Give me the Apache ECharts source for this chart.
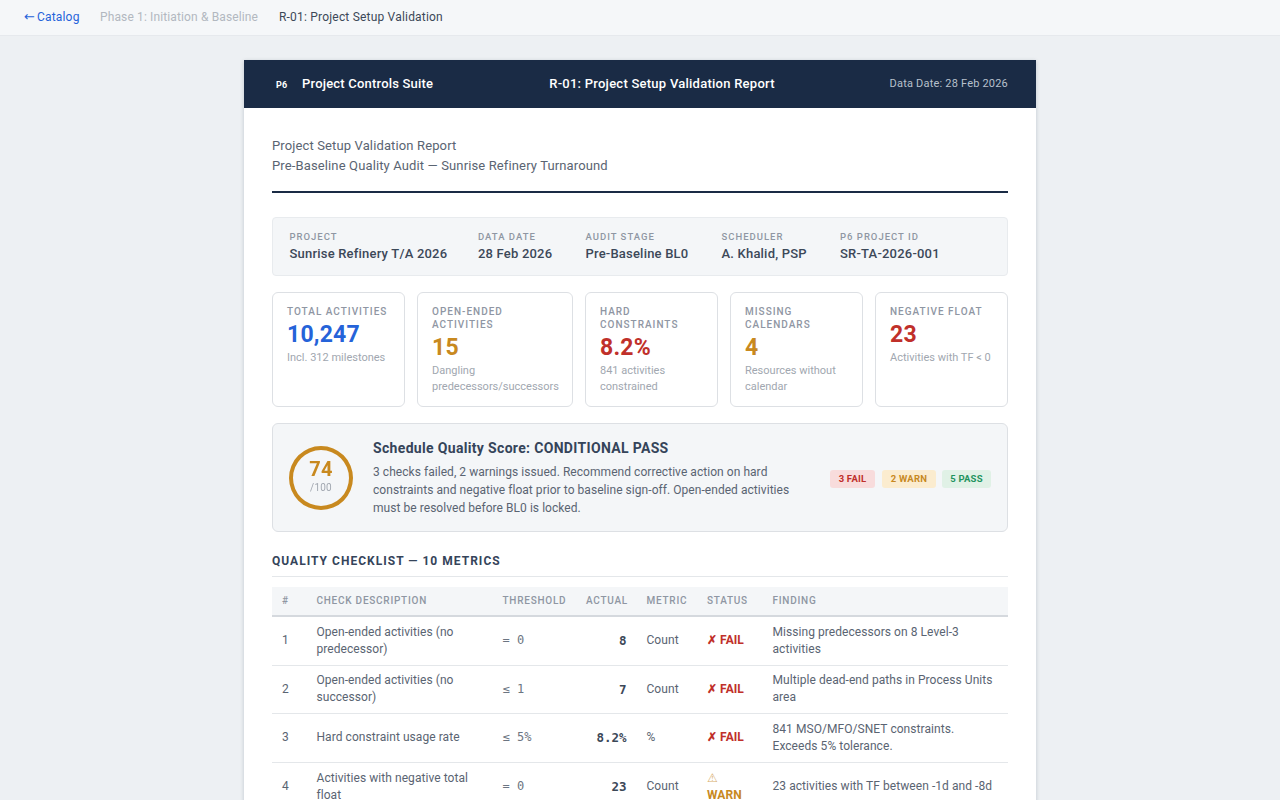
<!DOCTYPE html>
<html>
<head>
<meta charset="utf-8">
<script src="https://cdn.jsdelivr.net/npm/echarts@6/dist/echarts.min.js"></script>
<style>
* { box-sizing: border-box; }
html, body { margin: 0; height: 800px; overflow: hidden; }
body { background: #edf0f3; font-family: Roboto, sans-serif; color: #3c4858; position: relative; letter-spacing: 0.2px; }
.mono { font-family: "DejaVu Sans Mono", monospace; letter-spacing: 0; }
.crumbs { height: 36px; background: #f5f7f9; border-bottom: 1px solid #e6e9ed; font-size: 12px; position: relative; }
.crumbs span { position: absolute; top: 10px; line-height: 14px; white-space: nowrap; }
.arrow { font-family: "DejaVu Sans", sans-serif; font-size: 13px; letter-spacing: 0; margin-right: 2px; position: static !important; }
.report { position: absolute; left: 244px; top: 60px; width: 792px; height: 760px; background: #fff; box-shadow: 0 1px 4px rgba(30,45,70,.22); }
.bar { height: 48px; background: #1a2b45; color: #fff; position: relative; }
.bar span { position: absolute; white-space: nowrap; }
.logo { left: 32px; top: 19px; font-size: 9px; font-weight: 700; line-height: 12px; }
.suite { left: 58px; top: 16px; font-size: 13px; font-weight: 500; line-height: 16px; }
.ttl { left: 0; width: 836px; text-align: center; top: 16px; font-size: 13px; font-weight: 500; line-height: 16px; letter-spacing: 0.25px; }
.dd { right: 28px; top: 17px; font-size: 11px; line-height: 14px; color: #b7c0cc; }
.sub { position: absolute; left: 28px; top: 76px; font-size: 13px; line-height: 20px; color: #5a6472; letter-spacing: 0.13px; }
.rule { position: absolute; left: 28px; right: 28px; top: 131px; height: 2px; background: #1a2b45; }
.meta { position: absolute; left: 28px; top: 157px; width: 736px; height: 59px; background: #f4f6f8; border: 1px solid #e8ebee; border-radius: 4px; display: grid; grid-template-columns: 188.5px 107.5px 136px 118.5px 1fr; padding: 13px 0 0 16.5px; }
.meta b { display: block; font-size: 9.5px; line-height: 12px; font-weight: 500; letter-spacing: 1px; color: #8f96a3; text-transform: uppercase; }
.meta i { display: block; font-style: normal; font-size: 13px; line-height: 18px; margin-top: 2px; font-weight: 500; color: #3c4858; letter-spacing: 0.2px; }
.kpis { position: absolute; left: 28px; top: 232px; width: 736px; height: 115px; display: grid; grid-template-columns: 133px 156px 133px 133px 133px; column-gap: 12px; }
.kpi { border: 1px solid #dde0e4; border-radius: 6px; padding: 12px 14px 0; }
.kpi b { display: block; font-size: 10px; line-height: 13px; font-weight: 500; letter-spacing: 1px; color: #8f96a3; text-transform: uppercase; white-space: pre-line; }
.kpi strong { display: block; font-size: 23px; line-height: 26px; font-weight: 700; margin-top: 4px; }
.kpi em { display: block; font-style: normal; font-size: 11px; line-height: 16px; margin-top: 2px; color: #a1a7b0; white-space: pre-line; letter-spacing: 0; margin-right: -14px; }
.score { position: absolute; left: 28px; top: 363px; width: 736px; height: 109px; background: #f4f6f8; border: 1px solid #dde0e4; border-radius: 6px; }
#ring { position: absolute; left: 16px; top: 22px; width: 64px; height: 64px; }
.score h3 { position: absolute; left: 100px; top: 15px; margin: 0; font-size: 14px; line-height: 18px; font-weight: 700; color: #35445a; letter-spacing: 0.33px; }
.score p { position: absolute; left: 100px; top: 39px; margin: 0; font-size: 12px; line-height: 18px; color: #5a6472; white-space: pre-line; letter-spacing: 0.05px; }
.pill { position: absolute; top: 46px; height: 18px; border-radius: 3px; font-size: 9.5px; line-height: 18px; font-weight: 700; text-align: center; letter-spacing: 0.2px; }
.sect { position: absolute; left: 28px; top: 493px; width: 736px; height: 24px; border-bottom: 1px solid #e4e7ea; font-size: 12px; line-height: 16px; font-weight: 700; letter-spacing: 1.02px; color: #35445a; }
table { position: absolute; left: 28px; top: 527px; width: 736px; table-layout: fixed; border-collapse: collapse; font-size: 12px; }
th { height: 29px; background: #f4f6f8; border-bottom: 2px solid #d5d9de; padding: 0 0 2px 10px; text-align: left; font-size: 10px; font-weight: 500; letter-spacing: 0.75px; color: #8f96a3; text-transform: uppercase; }
td { border-bottom: 1px solid #e4e7ea; padding: 6px 0 6px 10px; line-height: 17px; color: #5a6472; white-space: pre-line; vertical-align: middle; letter-spacing: 0.06px; }
tr.row0, tr.row2, tr.row3 { height: 49px; }
tr.row1 { height: 48px; }
th.r { text-align: right; padding-right: 10.5px; }
td.r { text-align: right; padding: 0 10px 0 0; }
td.act { font-weight: 700; color: #3c4858; font-size: 12.5px; }
td.thr { font-size: 12px; color: #6c7582; }
td.st { font-weight: 700; font-size: 12px; }
td.st i { font-style: normal; font-weight: 400; opacity: .7; }
</style>
</head>
<body>
<div class="crumbs">
  <span style="left:24px;color:#2563d9"><span class="arrow">←</span>Catalog</span>
  <span style="left:100px;color:#b2b8c0;letter-spacing:.13px">Phase 1: Initiation &amp; Baseline</span>
  <span style="left:279px;color:#3c4858">R-01: Project Setup Validation</span>
</div>
<div class="report">
  <div class="bar">
    <span class="logo">P6</span>
    <span class="suite">Project Controls Suite</span>
    <span class="ttl">R-01: Project Setup Validation Report</span>
    <span class="dd">Data Date: 28 Feb 2026</span>
  </div>
  <div class="sub">Project Setup Validation Report<br>Pre-Baseline Quality Audit — Sunrise Refinery Turnaround</div>
  <div class="rule"></div>
  <div class="meta" id="meta"></div>
  <div class="kpis" id="kpis"></div>
  <div class="score">
    <div id="ring"></div>
    <h3>Schedule Quality Score: CONDITIONAL PASS</h3>
    <p id="scoreText"></p>
    <div id="pills"></div>
  </div>
  <div class="sect">QUALITY CHECKLIST — 10 METRICS</div>
  <table id="checks"></table>
</div>
<script>
const metaLabels = ["Project", "Data Date", "Audit Stage", "Scheduler", "P6 Project ID"];
const metaValues = ["Sunrise Refinery T/A 2026", "28 Feb 2026", "Pre-Baseline BL0", "A. Khalid, PSP", "SR-TA-2026-001"];

const kpiLabels = ["Total Activities", "Open-Ended\nActivities", "Hard\nConstraints", "Missing\nCalendars", "Negative Float"];
const kpiValues = ["10,247", "15", "8.2%", "4", "23"];
const kpiNotes = ["Incl. 312 milestones", "Dangling\npredecessors/successors", "841 activities\nconstrained", "Resources without\ncalendar", "Activities with TF < 0"];
const kpiColors = ["#2563d9", "#c8891f", "#c0302a", "#c8891f", "#c0302a"];

const scoreValue = 74;
const scoreMax = 100;
const scoreText = "3 checks failed, 2 warnings issued. Recommend corrective action on hard\nconstraints and negative float prior to baseline sign-off. Open-ended activities\nmust be resolved before BL0 is locked.";
const pillLabels = ["3 FAIL", "2 WARN", "5 PASS"];

const columns = ["#", "Check Description", "Threshold", "Actual", "Metric", "Status", "Finding"];
const checkIds = [1, 2, 3, 4];
const checkNames = ["Open-ended activities (no\npredecessor)", "Open-ended activities (no\nsuccessor)", "Hard constraint usage rate", "Activities with negative total\nfloat"];
const thresholds = ["= 0", "≤ 1", "≤ 5%", "= 0"];
const actuals = ["8", "7", "8.2%", "23"];
const metrics = ["Count", "Count", "%", "Count"];
const statuses = ["✗ FAIL", "✗ FAIL", "✗ FAIL", "⚠\nWARN"];
const findings = ["Missing predecessors on 8 Level-3\nactivities", "Multiple dead-end paths in Process Units\narea", "841 MSO/MFO/SNET constraints.\nExceeds 5% tolerance.", "23 activities with TF between -1d and -8d"];

document.getElementById("meta").innerHTML = metaLabels.map((l, i) => `<div><b>${l}</b><i>${metaValues[i]}</i></div>`).join("");

document.getElementById("kpis").innerHTML = kpiLabels.map((l, i) =>
  `<div class="kpi"><b>${l}</b><strong style="color:${kpiColors[i]}">${kpiValues[i]}</strong><em>${kpiNotes[i].replace("<", "&lt;")}</em></div>`
).join("");

document.getElementById("scoreText").textContent = scoreText;

const pillStyle = [
  "left:557px;width:45px;background:#f8dcdc;color:#c0302a",
  "left:609px;width:54px;background:#fbeccf;color:#c8891f",
  "left:669px;width:49px;background:#e0f1e6;color:#1f9460",
];
document.getElementById("pills").innerHTML = pillLabels.map((p, i) => `<div class="pill" style="${pillStyle[i]}">${p}</div>`).join("");

const colWidths = [34.5, 186, 83.5, 60.5, 60.5, 65.5, 245.5];
const statusColor = s => s.includes("FAIL") ? "#c0302a" : "#c8891f";
const statusHtml = s => s.replace("⚠", "<i>⚠</i>");
document.getElementById("checks").innerHTML =
  "<colgroup>" + colWidths.map(w => `<col style="width:${w}px">`).join("") + "</colgroup>" +
  "<tr>" + columns.map(c => `<th class="${c === "Actual" ? "r" : ""}">${c}</th>`).join("") + "</tr>" +
  checkIds.map((id, i) => `<tr class="row${i}">
    <td>${id}</td><td>${checkNames[i]}</td><td class="thr mono">${thresholds[i]}</td>
    <td class="r act mono">${actuals[i]}</td><td>${metrics[i]}</td>
    <td class="st" style="color:${statusColor(statuses[i])}">${statusHtml(statuses[i])}</td><td>${findings[i]}</td></tr>`).join("");

// score ring
const ring = echarts.init(document.getElementById("ring"));
ring.setOption({
  animation: false,
  series: [{
    type: "gauge",
    center: ["50%", "50%"],
    radius: "100%",
    startAngle: 90,
    endAngle: -270,
    min: 0,
    max: scoreMax,
    pointer: { show: false },
    progress: { show: false },
    axisLine: { lineStyle: { width: 4, color: [[1, "#c8891f"]] } },
    axisTick: { show: false },
    splitLine: { show: false },
    axisLabel: { show: false },
    title: { offsetCenter: [0, 10], fontSize: 10, color: "#a1a7b0", fontFamily: "Roboto" },
    detail: { offsetCenter: [0, -7], fontSize: 20, fontWeight: 700, color: "#c8891f", fontFamily: "Roboto", formatter: "{value}" },
    data: [{ value: scoreValue, name: "/" + scoreMax }],
  }],
});
</script>
</body>
</html>
